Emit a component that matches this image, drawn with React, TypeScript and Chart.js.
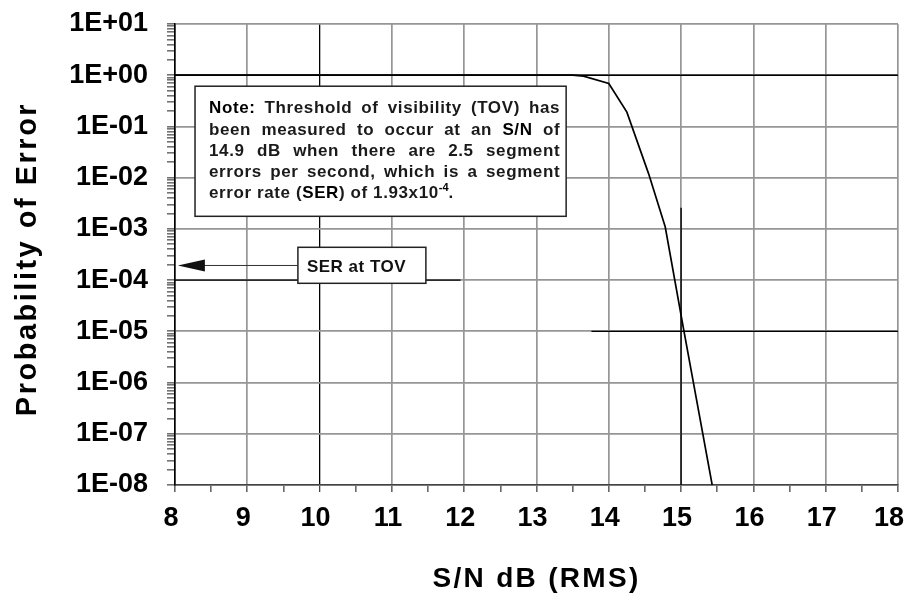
import React, { useEffect, useRef } from "react";
import { Chart, registerables } from "chart.js";

Chart.register(...registerables);

// ---------------- data ----------------
const snrValues = [8, 13.5, 13.65, 14.0, 14.25, 14.55, 14.78, 15.03, 15.43];
const serValues = [1, 1, 0.96, 0.69, 0.19, 0.012, 1.1e-3, 1.2e-5, 1e-8];

// black reference lines
const unityLineX = [8, 18];
const unityLineY = [1, 1];
const tovLineX = [8, 11.95];
const tovLineY = [1e-4, 1e-4];
const e5LineX = [13.76, 18];
const e5LineY = [1e-5, 1e-5];
const v15LineX = [15, 15];
const v15LineY = [2.6e-3, 1e-8];

const yTickLabels = ["1E-08", "1E-07", "1E-06", "1E-05", "1E-04", "1E-03", "1E-02", "1E-01", "1E+00", "1E+01"];
const xTickLabels = ["8", "9", "10", "11", "12", "13", "14", "15", "16", "17", "18"];

const xTitle = "S/N dB (RMS)";
const yTitle = "Probability of Error";

const serAtTov = 1.93e-4;
const serLabel = "SER at TOV";

type Run = { t: string; s: "r" | "b" | "sup" };
const noteLines: Run[][] = [
  [{ t: "Note:", s: "b" }, { t: " Threshold of visibility (TOV) has", s: "r" }],
  [{ t: "been measured to occur at an ", s: "r" }, { t: "S/N", s: "b" }, { t: " of", s: "r" }],
  [{ t: "14.9 dB when there are 2.5 segment", s: "r" }],
  [{ t: "errors per second, which is a segment", s: "r" }],
  [
    { t: "error rate (", s: "r" },
    { t: "SER", s: "b" },
    { t: ") of 1.93x10", s: "r" },
    { t: "-4", s: "sup" },
    { t: ".", s: "r" },
  ],
];

// annotation boxes in data units: [xLeft, xRight, yTop, yBottom]
const noteBox = [8.277, 13.41, 0.61, 1.76e-3];
const serBox = [9.7, 11.47, 4.37e-4, 8.66e-5];
const arrowTipX = 8.04;

// ---------------- helpers ----------------
const FONT = '"Liberation Sans", Arial, Helvetica, sans-serif';
const yMajorValues = yTickLabels.map(Number);
const yAllTicks: number[] = [];
yMajorValues.forEach((v, i) => {
  yAllTicks.push(v);
  if (i < yMajorValues.length - 1) {
    for (let k = 2; k <= 9; k++) yAllTicks.push(v * k);
  }
});
const xMajorValues = xTickLabels.map(Number);
const xAllTicks: number[] = [];
xMajorValues.forEach((v, i) => {
  xAllTicks.push(v);
  if (i < xMajorValues.length - 1) xAllTicks.push(v + 0.5);
});

const isYMajor = (v: number) => yMajorValues.some((m) => Math.abs(v / m - 1) < 1e-6);
const yLabelFor = (v: number) => {
  const i = yMajorValues.findIndex((m) => Math.abs(v / m - 1) < 1e-6);
  return i >= 0 ? yTickLabels[i] : "";
};
const xLabelFor = (v: number) => {
  const i = xMajorValues.findIndex((m) => Math.abs(v - m) < 1e-9);
  return i >= 0 ? xTickLabels[i] : "";
};

const toPoints = (xs: number[], ys: number[]) => xs.map((x, i) => ({ x, y: ys[i] }));

function setRunFont(ctx: any, s: Run["s"]) {
  if (s === "b") {
    ctx.font = `bold 17px ${FONT}`;
    ctx.letterSpacing = "0.6px";
  } else if (s === "sup") {
    ctx.font = `bold 11px ${FONT}`;
    ctx.letterSpacing = "0px";
  } else {
    ctx.font = `bold 17px ${FONT}`;
    ctx.letterSpacing = "0.6px";
  }
}

function toWords(runs: Run[]): Run[][] {
  const words: Run[][] = [[]];
  runs.forEach((run) => {
    const parts = run.t.split(" ");
    parts.forEach((p, i) => {
      if (i > 0) words.push([]);
      if (p) words[words.length - 1].push({ t: p, s: run.s });
    });
  });
  return words.filter((w) => w.length > 0);
}

function wordWidth(ctx: any, w: Run[]) {
  let total = 0;
  w.forEach((r) => {
    setRunFont(ctx, r.s);
    total += ctx.measureText(r.t).width;
  });
  return total;
}

function drawWord(ctx: any, w: Run[], x: number, y: number) {
  let cx = x;
  w.forEach((r) => {
    setRunFont(ctx, r.s);
    const dy = r.s === "sup" ? -7 : 0;
    ctx.fillStyle = r.s === "r" ? "#1a1a1a" : "#000";
    ctx.fillText(r.t, cx, y + dy);
    cx += ctx.measureText(r.t).width;
  });
}

const annotationPlugin = {
  id: "annotations",
  beforeDraw(chart: any) {
    // nudge x tick labels slightly left, as in the reference, keeping "18" inside the canvas
    const xs = chart.scales.x;
    const items = xs.getLabelItems(chart.chartArea);
    if (items && items.length) {
      const last = items[items.length - 1];
      if (last && last.options && last.options.translation) {
        last.options.translation[0] -= 5;
      }
    }
  },
  afterDatasetsDraw(chart: any) {
    const { ctx } = chart;
    const xs = chart.scales.x;
    const ys = chart.scales.y;
    ctx.save();

    // note box
    const nl = xs.getPixelForValue(noteBox[0]);
    const nr = xs.getPixelForValue(noteBox[1]);
    const nt = ys.getPixelForValue(noteBox[2]);
    const nb = ys.getPixelForValue(noteBox[3]);
    ctx.fillStyle = "#fff";
    ctx.fillRect(nl, nt, nr - nl, nb - nt);
    ctx.strokeStyle = "#222";
    ctx.lineWidth = 1.5;
    ctx.strokeRect(nl, nt, nr - nl, nb - nt);

    ctx.textAlign = "left";
    ctx.textBaseline = "alphabetic";
    const textLeft = nl + 14;
    const textRight = nr - 6;
    const lineW = textRight - textLeft;
    noteLines.forEach((runs, li) => {
      const words = toWords(runs);
      const widths = words.map((w) => wordWidth(ctx, w));
      const sum = widths.reduce((a, b) => a + b, 0);
      const baseY = nt + 27 + li * 21.3;
      let gap: number;
      if (li === noteLines.length - 1) {
        setRunFont(ctx, "r");
        gap = ctx.measureText(" ").width;
      } else {
        gap = words.length > 1 ? (lineW - sum) / (words.length - 1) : 0;
      }
      let cx = textLeft;
      words.forEach((w, wi) => {
        drawWord(ctx, w, cx, baseY);
        cx += widths[wi] + gap;
      });
    });

    // SER box
    const sl = xs.getPixelForValue(serBox[0]);
    const sr = xs.getPixelForValue(serBox[1]);
    const st = ys.getPixelForValue(serBox[2]);
    const sb = ys.getPixelForValue(serBox[3]);
    ctx.fillStyle = "#fff";
    ctx.fillRect(sl, st, sr - sl, sb - st);
    ctx.strokeStyle = "#222";
    ctx.lineWidth = 1.5;
    ctx.strokeRect(sl, st, sr - sl, sb - st);
    ctx.fillStyle = "#111";
    ctx.font = `bold 17px ${FONT}`;
    ctx.letterSpacing = "0.5px";
    ctx.fillText(serLabel, sl + 9, st + 25);

    // arrow
    const ay = ys.getPixelForValue(serAtTov);
    const tip = xs.getPixelForValue(arrowTipX);
    ctx.strokeStyle = "#333";
    ctx.lineWidth = 1;
    ctx.beginPath();
    ctx.moveTo(sl, ay);
    ctx.lineTo(tip + 20, ay);
    ctx.stroke();
    ctx.fillStyle = "#111";
    ctx.beginPath();
    ctx.moveTo(tip, ay);
    ctx.lineTo(tip + 27, ay - 6);
    ctx.lineTo(tip + 27, ay + 6);
    ctx.closePath();
    ctx.fill();

    ctx.restore();
  },
  afterDraw(chart: any) {
    const { ctx, chartArea } = chart;
    ctx.save();
    ctx.fillStyle = "#000";
    ctx.textAlign = "center";
    ctx.textBaseline = "alphabetic";
    ctx.font = `bold 28px ${FONT}`;
    ctx.letterSpacing = "2.3px";
    ctx.fillText(xTitle, (chartArea.left + chartArea.right) / 2, 587);
    ctx.translate(36, (chartArea.top + chartArea.bottom) / 2 + 4.5);
    ctx.rotate(-Math.PI / 2);
    ctx.font = `bold 29px ${FONT}`;
    ctx.letterSpacing = "2.5px";
    ctx.fillText(yTitle, 0, 0);
    ctx.restore();
  },
};

export default function App() {
  const canvasRef = useRef<HTMLCanvasElement | null>(null);

  useEffect(() => {
    document.body.style.margin = "0";
    const canvas = canvasRef.current;
    if (!canvas) return;
    Chart.defaults.font.family = FONT;

    const lineStyle = {
      borderColor: "#000",
      pointRadius: 0,
      tension: 0,
      fill: false,
    };

    const chart = new Chart(canvas, {
      type: "line",
      data: {
        datasets: [
          { label: "SER", data: toPoints(snrValues, serValues), borderWidth: 1.7, ...lineStyle },
          { label: "1E+00", data: toPoints(unityLineX, unityLineY), borderWidth: 1.4, ...lineStyle },
          { label: "1E-04", data: toPoints(tovLineX, tovLineY), borderWidth: 1.4, ...lineStyle },
          { label: "1E-05", data: toPoints(e5LineX, e5LineY), borderWidth: 1.4, ...lineStyle },
          { label: "15 dB", data: toPoints(v15LineX, v15LineY), borderWidth: 1.4, ...lineStyle },
        ],
      },
      options: {
        animation: false,
        responsive: false,
        maintainAspectRatio: false,
        devicePixelRatio: 1,
        layout: { padding: { top: 24, right: 9, left: 0, bottom: 0 } },
        plugins: {
          legend: { display: false },
          tooltip: { enabled: false },
        },
        scales: {
          x: {
            type: "linear",
            min: 8,
            max: 18,
            afterBuildTicks: (scale: any) => {
              scale.ticks = xAllTicks.map((v) => ({ value: v }));
            },
            afterFit: (scale: any) => {
              scale.height = 110;
              scale.paddingLeft = 0;
              scale.paddingRight = 0;
            },
            ticks: {
              autoSkip: false,
              maxRotation: 0,
              minRotation: 0,
              padding: 10,
              labelOffset: -4,
              color: "#000",
              font: { size: 27, weight: "bold" },
              callback: (v: any) => xLabelFor(Number(v)),
            },
            grid: {
              color: (c: any) => {
                const v = c.tick ? c.tick.value : 0;
                if (!Number.isInteger(v)) return "rgba(0,0,0,0)";
                return v === 10 ? "#000" : "#969696";
              },
              lineWidth: (c: any) => (c.tick && c.tick.value === 10 ? 1.3 : 1.7),
              tickColor: "#444",
              tickLength: 7,
              tickWidth: 1.3,
            },
            border: { color: "#444", width: 1.5 },
          },
          y: {
            type: "logarithmic",
            min: 1e-8,
            max: 10,
            afterBuildTicks: (scale: any) => {
              scale.ticks = yAllTicks.map((v) => ({ value: v, major: isYMajor(v) }));
            },
            afterFit: (scale: any) => {
              scale.width = 175;
              scale.paddingTop = 0;
              scale.paddingBottom = 0;
            },
            ticks: {
              autoSkip: false,
              padding: 19,
              color: "#000",
              font: { size: 27, weight: "bold" },
              callback: (v: any) => yLabelFor(Number(v)),
            },
            grid: {
              color: (c: any) => (c.tick && isYMajor(c.tick.value) ? "#969696" : "rgba(0,0,0,0)"),
              lineWidth: 1.7,
              tickColor: "#444",
              tickLength: 8,
              tickWidth: 1.2,
            },
            border: { color: "#000", width: 1.6 },
          },
        },
      },
      plugins: [annotationPlugin],
    } as any);

    return () => {
      chart.destroy();
    };
  }, []);

  return (
    <div style={{ width: 907, height: 595, position: "relative", background: "#fff" }}>
      <canvas ref={canvasRef} width={907} height={595} style={{ display: "block" }} />
    </div>
  );
}
